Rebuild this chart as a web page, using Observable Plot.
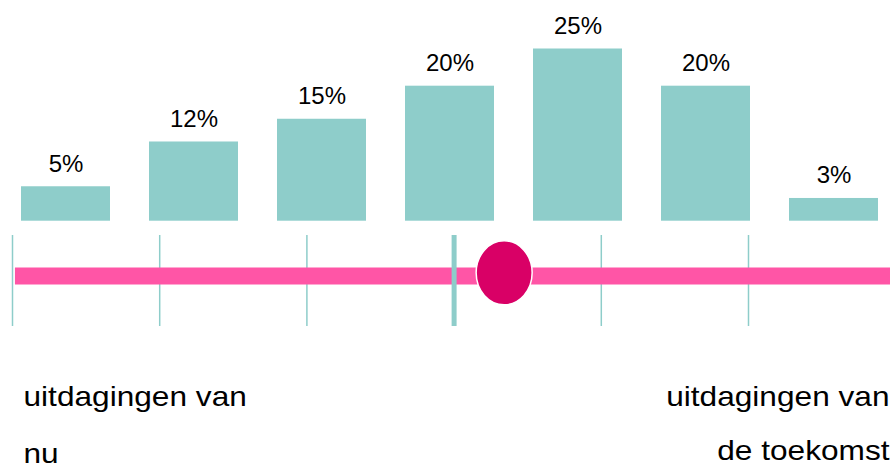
<!DOCTYPE html>
<html>
<head>
<meta charset="utf-8">
<script src="https://cdn.jsdelivr.net/npm/d3@7"></script>
<script src="https://cdn.jsdelivr.net/npm/@observablehq/plot@0.6"></script>
<style>
  html, body { margin: 0; padding: 0; background: #fff; overflow: hidden; }
  svg { display: block; }
</style>
</head>
<body>
<div id="chart"></div>
<script>
// ---- data ----
const categories = ["1", "2", "3", "4", "5", "6", "7"];
const values = [5, 11.5, 14.8, 19.6, 25, 19.6, 3.3];
const valueLabels = ["5%", "12%", "15%", "20%", "25%", "20%", "3%"];
const sliderTicks = [0, 1, 2, 3, 4, 5];
const highlightedTick = 3;
const sliderRange = [0.02, 6];
const sliderLevel = 0.555;
const markerPosition = 3.34;
const markerLevel = 0.59;
const leftLabel = ["uitdagingen van", "nu"];
const rightLabel = ["uitdagingen van", "de toekomst"];

// ---- styles ----
const FONT = "'Liberation Sans', Arial, Helvetica, sans-serif";
const TEAL = "#8ECDCA";
const PINK = "#FF55A6";
const MAGENTA = "#D90066";
const style = {fontFamily: FONT, fontSize: "24px", background: "white", overflow: "visible", color: "#000"};

const bars = categories.map((c, i) => ({category: c, value: values[i], label: valueLabels[i]}));

const topChart = Plot.plot({
  width: 890, height: 228, margin: 0,
  style,
  x: {type: "band", domain: categories, range: [20, 879], paddingInner: 0.3065, paddingOuter: 0, axis: null},
  y: {domain: [0, 25], range: [220.7, 48.5], axis: null},
  marks: [
    Plot.barY(bars, {x: "category", y: "value", fill: TEAL}),
    Plot.text(bars, {x: "category", y: "value", text: "label", dy: -15, lineAnchor: "bottom", fill: "#000", fontSize: 24})
  ]
});

// ellipse symbol (slightly taller than wide)
const ellipse = {
  draw(context, size) {
    const r = Math.sqrt(size / Math.PI), rx = r * 0.875, ry = r, k = 0.5522847;
    context.moveTo(rx, 0);
    context.bezierCurveTo(rx, ry * k, rx * k, ry, 0, ry);
    context.bezierCurveTo(-rx * k, ry, -rx, ry * k, -rx, 0);
    context.bezierCurveTo(-rx, -ry * k, -rx * k, -ry, 0, -ry);
    context.bezierCurveTo(rx * k, -ry, rx, -ry * k, rx, 0);
    context.closePath();
  }
};

const textOpts = {text: d => d, lineAnchor: "bottom", fill: "#000", fontSize: 28};

const bottomChart = Plot.plot({
  width: 890, height: 236, marginTop: 0, marginLeft: 12, marginRight: 1, marginBottom: 0,
  style,
  x: {domain: [0, 6], range: [12, 12 + 6 * 147.2], axis: null},
  y: {domain: [0, 1], range: [98, 7], axis: null},
  marks: [
    Plot.ruleX(sliderTicks.filter(d => d !== highlightedTick), {x: d => d, y1: 0, y2: 1, stroke: TEAL, strokeWidth: 1.5}),
    Plot.ruleY([sliderLevel], {y: d => d, x1: sliderRange[0], x2: sliderRange[1], stroke: PINK, strokeWidth: 17}),
    Plot.ruleX([highlightedTick], {x: d => d, y1: 0, y2: 1, stroke: TEAL, strokeWidth: 5}),
    Plot.dot([markerPosition], {x: d => d, y: markerLevel, r: 32, symbol: ellipse, fill: MAGENTA, stroke: "white", strokeWidth: 1.5}),
    Plot.text([leftLabel[0]], {...textOpts, frameAnchor: "bottom-left", textAnchor: "start", dx: 11, dy: -58.5}),
    Plot.text([leftLabel[1]], {...textOpts, frameAnchor: "bottom-left", textAnchor: "start", dx: 11, dy: -2}),
    Plot.text([rightLabel[0]], {...textOpts, frameAnchor: "bottom-right", textAnchor: "end", dy: -58.5}),
    Plot.text([rightLabel[1]], {...textOpts, frameAnchor: "bottom-right", textAnchor: "end", dy: -5})
  ]
});

const chart = document.getElementById("chart");
chart.append(topChart, bottomChart);

// slightly widened lettering, as in the reference (scale around each text's anchor)
const sideTexts = new Set([...leftLabel, ...rightLabel]);
bottomChart.querySelectorAll("text").forEach(t => {
  if (!sideTexts.has(t.textContent)) return;
  const x = parseFloat(t.getAttribute("x")) || 0;
  const y = parseFloat(t.getAttribute("y")) || 0;
  const tf = t.getAttribute("transform") || "";
  t.setAttribute("x", 0);
  t.setAttribute("y", 0);
  t.setAttribute("transform", `${tf} translate(${x},${y}) scale(1.13,1)`);
});
</script>
</body>
</html>
